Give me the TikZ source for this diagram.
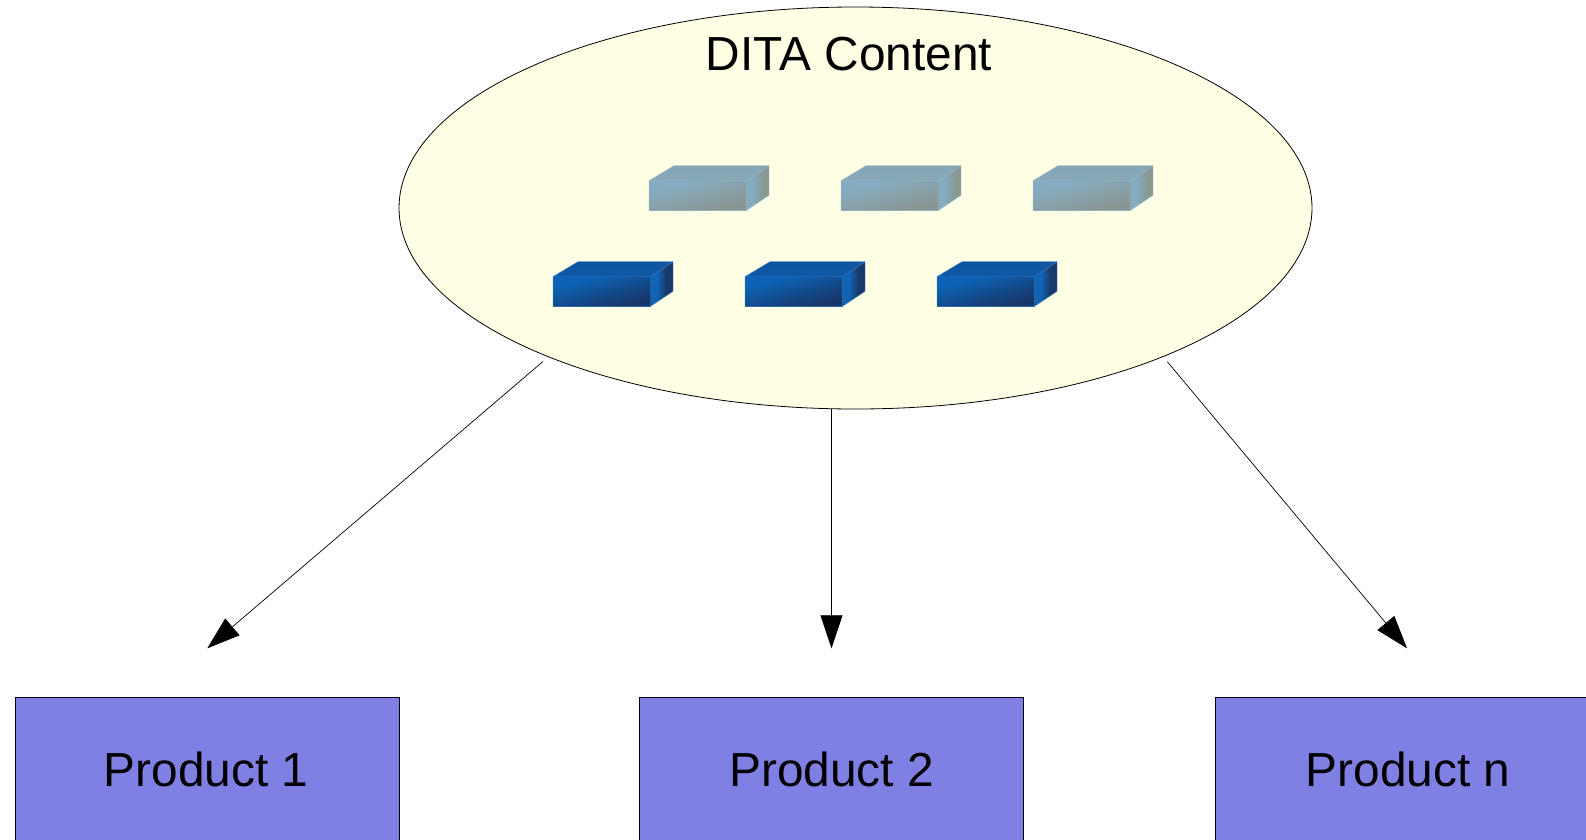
\documentclass[tikz,border=0pt]{standalone}
\usepackage{fontspec}
\setmainfont{Liberation Sans}
\usetikzlibrary{shapes.geometric,arrows.meta}
\definecolor{ellfill}{RGB}{255,255,230}
\definecolor{boxfill}{RGB}{128,128,228}
\definecolor{grayedge}{RGB}{150,188,205}
\definecolor{blueedge}{RGB}{60,125,190}
\pgfdeclareverticalshading{grayfrontsh}{100bp}{rgb(0bp)=(0.54,0.59,0.58); rgb(30bp)=(0.54,0.59,0.58); rgb(70bp)=(0.52,0.68,0.76); rgb(100bp)=(0.52,0.68,0.76)}
\pgfdeclareverticalshading{graytopsh}{100bp}{rgb(0bp)=(0.53,0.65,0.70); rgb(100bp)=(0.51,0.66,0.73)}
\pgfdeclarehorizontalshading{graysidesh}{100bp}{rgb(0bp)=(0.52,0.67,0.75); rgb(40bp)=(0.52,0.67,0.75); rgb(60bp)=(0.54,0.60,0.58); rgb(100bp)=(0.54,0.60,0.58)}
\pgfdeclareverticalshading{bluefrontsh}{100bp}{rgb(0bp)=(0.09,0.22,0.42); rgb(30bp)=(0.09,0.22,0.42); rgb(70bp)=(0.05,0.39,0.72); rgb(100bp)=(0.05,0.39,0.72)}
\pgfdeclareverticalshading{bluetopsh}{100bp}{rgb(0bp)=(0.06,0.36,0.68); rgb(100bp)=(0.06,0.32,0.60)}
\pgfdeclarehorizontalshading{bluesidesh}{100bp}{rgb(0bp)=(0.07,0.39,0.70); rgb(40bp)=(0.07,0.39,0.70); rgb(60bp)=(0.10,0.22,0.42); rgb(100bp)=(0.10,0.22,0.42)}
\tikzset{
  contentell/.style={ellipse,draw=black,line width=0.8pt,fill=ellfill,inner sep=0pt,outer sep=0pt,minimum width=913pt,minimum height=402pt},
  titletext/.style={font=\fontsize{47.8}{48}\selectfont,text=black,inner sep=0pt},
  productbox/.style={rectangle,draw=black,line width=0.9pt,fill=boxfill,inner sep=0pt,outer sep=0pt,minimum width=384pt,minimum height=144pt,font=\fontsize{47.8}{48}\selectfont,text=black},
  flow/.style={draw=black,line width=0.7pt,-{Triangle[length=33pt,width=22pt]}}
}
\newcommand{\myblock}[6]{%
  % #1,#2 = top-left of front face, #3 front shading, #4 top shading, #5 side shading, #6 edge colour
  \begin{scope}[shift={(#1,#2)}]
    \shade[shading=#3,shading angle=15] (0,0) rectangle (97.5,29.6);
    \shade[shading=#4] (0,0) -- (25,-15) -- (120,-15) -- (97.5,0) -- cycle;
    \shade[shading=#5] (97.5,0) -- (120,-15) -- (120,14.6) -- (97.5,29.6) -- cycle;
    \draw[#6,line width=0.4pt,line join=round] (0,0) -- (25,-15) -- (120,-15) -- (120,14.6) -- (97.5,29.6) -- (0,29.6) -- cycle (0,0) -- (97.5,0) -- (97.5,29.6) (97.5,0) -- (120,-15);
  \end{scope}}
\begin{document}
\begin{tikzpicture}[x=1pt,y=-1pt]
  \clip (0,0) rectangle (1586,839);
  \node[contentell] (content) at (855.5,208) {};
  \node[titletext] (title) at (849,54) {DITA Content};
  \foreach \dx in {0,192,384} {
    \myblock{649+\dx}{180.7}{grayfrontsh}{graytopsh}{graysidesh}{grayedge}
    \myblock{553+\dx}{276.7}{bluefrontsh}{bluetopsh}{bluesidesh}{blueedge}
  }
  \node[productbox] (p1) at (207,769) {\hspace*{-2pt}Product 1};
  \node[productbox] (p2) at (831.5,769) {Product 2};
  \node[productbox,minimum width=386pt] (pn) at (1408,769) {Product n};
  \coordinate (start1) at (542.7,361.7);
  \coordinate (startn) at (1167.3,361.7);
  \coordinate (tip1) at (207.3,648.3);
  \coordinate (tip2) at (831.5,648.3);
  \coordinate (tipn) at (1407,648.3);
  \draw[flow] (start1) -- (tip1);
  \draw[flow] (tip2 |- content.south) -- (tip2);
  \draw[flow] (startn) -- (tipn);
\end{tikzpicture}
\end{document}
